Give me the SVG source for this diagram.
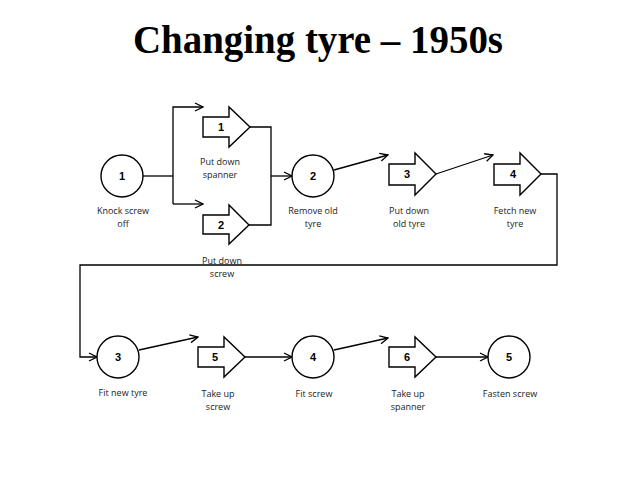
<svg xmlns="http://www.w3.org/2000/svg" width="638" height="479" viewBox="0 0 638 479">
<style>
.shape{fill:#fff;stroke:#000;stroke-width:1.4}
.num{font-family:"Liberation Sans",Arial,sans-serif;font-size:11px;font-weight:bold;text-anchor:middle;fill:#000}
.lbl{font-family:"Open Sans","Liberation Sans",sans-serif;font-size:9px;text-anchor:middle;fill:#222}
.con{fill:none;stroke:#000;stroke-width:1.3}
</style>
<defs>
<marker id="arr" viewBox="0 0 10 10" refX="9" refY="5" markerWidth="10" markerHeight="10" markerUnits="userSpaceOnUse" orient="auto">
<path d="M1,1 L9,5 L1,9" fill="none" stroke="#000" stroke-width="1.3"/>
</marker>
</defs>
<rect width="638" height="479" fill="#fff"/>
<text x="318" y="53" font-family="Liberation Serif,'Times New Roman',serif" font-size="40" font-weight="bold" text-anchor="middle" textLength="370" lengthAdjust="spacingAndGlyphs">Changing tyre – 1950s</text>

<g id="connectors">
<path class="con" d="M143,176 L173,176" stroke-width="2"/>
<path class="con" d="M173,204 L173,107 L203,107" marker-end="url(#arr)"/>
<path class="con" d="M173,204 L203,204" marker-end="url(#arr)"/>
<path class="con" d="M250,127 L271,127 L271,225 L249,225"/>
<path class="con" d="M271,176 L292,176" marker-end="url(#arr)"/>
<path class="con" d="M334,170 L388,155" marker-end="url(#arr)"/>
<path class="con" d="M436,174 L493,155" marker-end="url(#arr)"/>
<path class="con" d="M541,174 L557,174 L557,265 L80,265 L80,357 L97,357" marker-end="url(#arr)"/>
<path class="con" d="M139,350 L198,337" marker-end="url(#arr)"/>
<path class="con" d="M245,357 L292,357" marker-end="url(#arr)"/>
<path class="con" d="M334,350 L388,338" marker-end="url(#arr)"/>
<path class="con" d="M436,357 L488,357" marker-end="url(#arr)"/>
</g>

<g id="node-c1">
<circle class="shape" cx="122" cy="176" r="21"/>
<text class="num" x="122" y="180">1</text>
<text class="lbl" x="123" y="214">Knock screw</text>
<text class="lbl" x="123" y="227">off</text>
</g>
<g id="node-a1">
<path class="shape" d="M203,117 L229,117 L229,107 L250,127 L229,147 L229,137 L203,137 Z"/>
<text class="num" x="221" y="131">1</text>
<text class="lbl" x="220" y="165">Put down</text>
<text class="lbl" x="220" y="178">spanner</text>
</g>
<g id="node-a2">
<path class="shape" d="M203,215 L229,215 L229,205 L249,225 L229,244 L229,234 L203,234 Z"/>
<text class="num" x="221" y="229">2</text>
<text class="lbl" x="222" y="264">Put down</text>
<text class="lbl" x="222" y="277">screw</text>
</g>
<g id="node-c2">
<circle class="shape" cx="313" cy="176" r="21"/>
<text class="num" x="313" y="180">2</text>
<text class="lbl" x="313" y="214">Remove old</text>
<text class="lbl" x="313" y="227">tyre</text>
</g>
<g id="node-a3">
<path class="shape" d="M389,164 L415,164 L415,153 L436,174 L415,195 L415,185 L389,185 Z"/>
<text class="num" x="407" y="178">3</text>
<text class="lbl" x="409" y="214">Put down</text>
<text class="lbl" x="409" y="227">old tyre</text>
</g>
<g id="node-a4">
<path class="shape" d="M494,164 L520,164 L520,153 L541,174 L520,195 L520,185 L494,185 Z"/>
<text class="num" x="513" y="178">4</text>
<text class="lbl" x="515" y="214">Fetch new</text>
<text class="lbl" x="515" y="227">tyre</text>
</g>
<g id="node-c3">
<circle class="shape" cx="118" cy="357" r="21"/>
<text class="num" x="118" y="361">3</text>
<text class="lbl" x="123" y="396">Fit new tyre</text>
</g>
<g id="node-a5">
<path class="shape" d="M198,347 L224,347 L224,337 L245,357 L224,377 L224,367 L198,367 Z"/>
<text class="num" x="215" y="361">5</text>
<text class="lbl" x="218" y="397">Take up</text>
<text class="lbl" x="218" y="410">screw</text>
</g>
<g id="node-c4">
<circle class="shape" cx="313" cy="357" r="21"/>
<text class="num" x="313" y="361">4</text>
<text class="lbl" x="314" y="397">Fit screw</text>
</g>
<g id="node-a6">
<path class="shape" d="M389,347 L415,347 L415,337 L436,357 L415,377 L415,367 L389,367 Z"/>
<text class="num" x="407" y="361">6</text>
<text class="lbl" x="408" y="397">Take up</text>
<text class="lbl" x="408" y="410">spanner</text>
</g>
<g id="node-c5">
<circle class="shape" cx="509" cy="357" r="21"/>
<text class="num" x="509" y="361">5</text>
<text class="lbl" x="510" y="397">Fasten screw</text>
</g>
</svg>
